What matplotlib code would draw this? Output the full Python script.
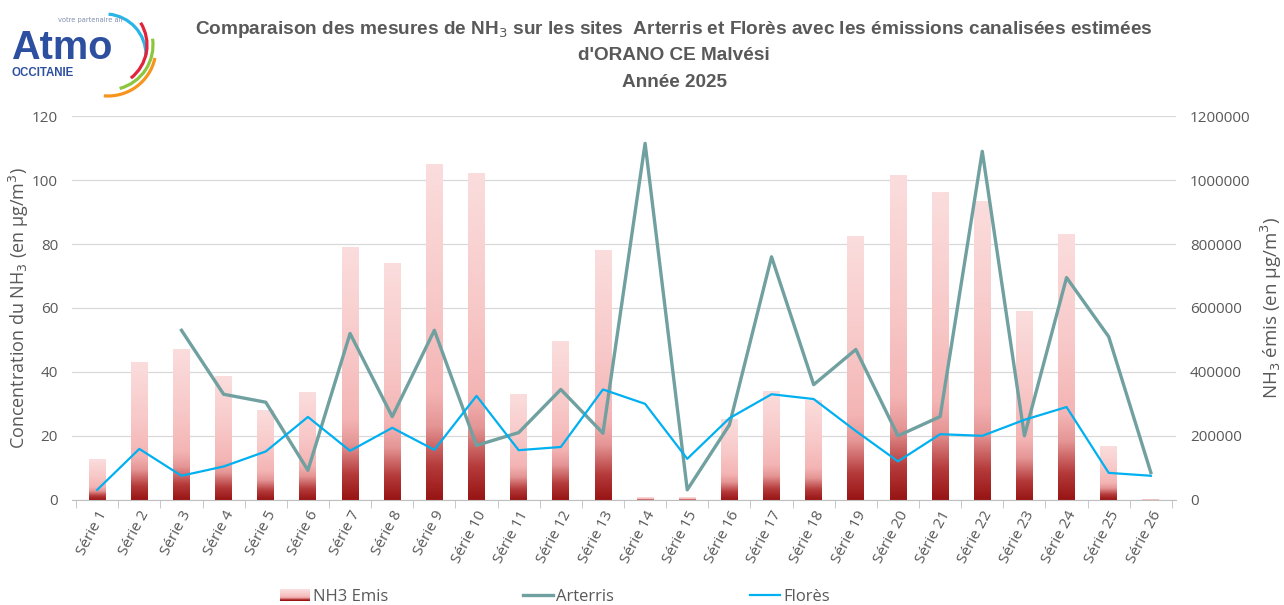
import numpy as np
import matplotlib
matplotlib.use("Agg")
import matplotlib.pyplot as plt
from matplotlib.colors import LinearSegmentedColormap
from matplotlib.patches import Rectangle, Arc
from matplotlib.lines import Line2D
from matplotlib.legend_handler import HandlerBase

categories = [f"Série {i}" for i in range(1, 27)]
nh3_emis = [128000, 430000, 470000, 385000, 280000, 335000, 790000, 740000, 1050000,
            1020000, 330000, 495000, 780000, 8000, 8000, 253000, 340000, 310000,
            825000, 1015000, 962000, 935000, 590000, 832000, 166000, 3000]
arterris = [np.nan, np.nan, 53, 33, 30.5, 9.2, 52, 26, 53, 17, 21, 34.5, 20.8, 111.5, 3.1,
            23.4, 76, 36, 47, 20, 26, 109, 20, 69.5, 51, 8.5]
flores = [3.1, 15.9, 7.5, 10.4, 15.1, 25.9, 15.3, 22.5, 15.6, 32.5, 15.5, 16.5, 34.5,
          30, 12.8, 25.5, 33, 31.5, 21.5, 12, 20.5, 20, 25, 29, 8.4, 7.5]
legend_labels = ["NH3 Emis", "Arterris", "Florès"]

grey = "#595959"
c_art = "#70a0a0"
c_flo = "#00b0f0"
sans = ["Open Sans", "DejaVu Sans"]

fig = plt.figure(figsize=(12.84, 6.05), dpi=100)

# logo layer in pixel coordinates
pax = fig.add_axes([0, 0, 1, 1])
pax.set_xlim(0, 1284); pax.set_ylim(605, 0); pax.axis("off")
pax.text(11, 59, "Atmo", fontsize=28.5, fontweight="bold", color="#2d4fa0",
         family=["Liberation Sans", "DejaVu Sans"], va="baseline", ha="left")
pax.text(12, 73, "OCCITANIE", fontsize=8.3, fontweight="bold", color="#2d4fa0",
         family=["Liberation Sans", "DejaVu Sans"], va="center", ha="left")
pax.text(58, 20, "votre partenaire air", fontsize=4.8, color="#8090b0", va="center", ha="left")
for (cx, cy), r, t1, t2, c in [((105, 55), 41, -85, 0, "#29b5e8"),
                                ((105, 45), 42, -32, 52, "#e2233d"),
                                ((108, 45), 45, -8, 75, "#8cc63f"),
                                ((108, 48), 48, 12, 95, "#f7941d")]:
    pax.add_patch(Arc((cx, cy), 2 * r, 2 * r, theta1=t1, theta2=t2, color=c, lw=2.3))

ax2 = fig.add_axes([0.056, 0.174, 0.860, 0.634])
ax = ax2.twinx()
ax.set_zorder(ax2.get_zorder() + 1)
ax.patch.set_visible(False)
ax.yaxis.tick_left(); ax.yaxis.set_label_position("left")
ax2.yaxis.tick_right(); ax2.yaxis.set_label_position("right")

x = np.arange(len(categories))
w = 0.4
cmap = LinearSegmentedColormap.from_list("g", [(0, "#981414"), (0.1, "#b53a3a"), (0.22, "#e59595"),
                                               (0.32, "#f4b4b4"), (0.6, "#f8c9c9"), (1, "#fbdddd")])
grad = np.linspace(0, 1, 256).reshape(-1, 1)
bars = ax2.bar(x, nh3_emis, width=w, color="none", edgecolor="none")
for b in bars:
    h = b.get_height()
    if h <= 0:
        continue
    ax2.imshow(grad, cmap=cmap, origin="lower", aspect="auto",
               extent=[b.get_x(), b.get_x() + b.get_width(), 0, h], zorder=2)
ax2.set_xlim(-0.6, len(categories) - 0.4)
ax2.set_ylim(0, 1200000)
ax2.set_yticks(np.arange(0, 1200001, 200000))
ax2.set_yticklabels([str(v) for v in range(0, 1200001, 200000)])

ax.plot(x, arterris, color=c_art, lw=2.4, zorder=3)
ax.plot(x, flores, color=c_flo, lw=1.6, zorder=4)
ax.set_ylim(0, 120)
ax.set_yticks(np.arange(0, 121, 20))
ax2.grid(axis="y", color="#d9d9d9", lw=0.9, zorder=0)
ax2.set_axisbelow(True)

for a in (ax, ax2):
    for s in a.spines.values():
        s.set_visible(False)
    a.tick_params(axis="y", length=0, labelsize=11, labelcolor=grey, pad=10)
ax2.spines["bottom"].set_visible(True)
ax2.spines["bottom"].set_color("#bfbfbf")
ax2.set_xticks(x)
ax2.set_xticklabels(categories, rotation=62, ha="right", rotation_mode="anchor",
                    fontsize=11, color=grey)
ax2.tick_params(axis="x", length=0, pad=6)
ax2.set_xticks(np.arange(-0.5, len(categories), 1), minor=True)
ax2.tick_params(axis="x", which="minor", length=6, color="#bfbfbf")
ax.tick_params(axis="x", which="both", length=0, labelbottom=False)

for a in (ax, ax2):
    for t in a.get_yticklabels() + a.get_xticklabels():
        t.set_family(sans)

ax.set_ylabel("Concentration du NH$_3$ (en µg/m$^3$)", fontsize=13, color=grey,
              family=sans, labelpad=0.5)
ax2.set_ylabel("NH$_3$ émis (en µg/m$^3$)", fontsize=13.5, color=grey,
               family=sans, labelpad=6)

tfam = ["Liberation Sans", "DejaVu Sans"]
for yy, s in [(0.952, "Comparaison des mesures de NH$_3$ sur les sites  Arterris et Florès avec les émissions canalisées estimées"),
              (0.908, "d'ORANO CE Malvési"), (0.864, "Année 2025")]:
    fig.text(0.525, yy, s, ha="center", va="center", fontsize=13.7, fontweight="bold",
             color=grey, family=tfam)

class GradHandler(HandlerBase):
    def create_artists(self, legend, orig, xd, yd, width, height, fontsize, trans):
        arts = []
        n = 12
        for i in range(n):
            r = Rectangle((xd, yd + height * i / n), width, height / n,
                          color=cmap(i / (n - 1)), transform=trans, lw=0)
            arts.append(r)
        return arts

proxy = Rectangle((0, 0), 1, 1)
handles = [proxy, Line2D([], [], color=c_art, lw=2.4), Line2D([], [], color=c_flo, lw=1.6)]
for hnd, lab, xpos in zip(handles, legend_labels, [280, 523, 750]):
    lg = fig.legend([hnd], [lab], loc="center left", bbox_to_anchor=(xpos / 1284, 0.013),
                    frameon=False, handlelength=1.8, handletextpad=0.18, borderpad=0,
                    borderaxespad=0, handler_map={proxy: GradHandler()},
                    prop={"family": sans, "size": 12})
    for t in lg.get_texts():
        t.set_color(grey)

fig.savefig("out.png", dpi=100)
